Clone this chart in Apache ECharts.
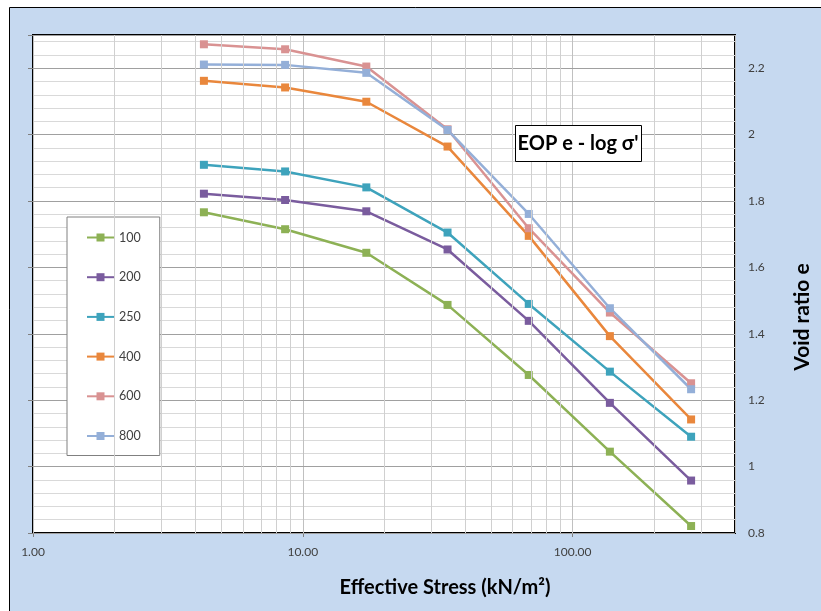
<!DOCTYPE html>
<html>
<head>
<meta charset="utf-8">
<script src="https://cdn.jsdelivr.net/npm/echarts@6/dist/echarts.min.js"></script>
<style>html,body{margin:0;padding:0;background:#fff}#c{width:821px;height:611px}</style>
</head>
<body>
<div id="c"></div>
<script>
// Effective stress (kN/m2)
var stress = [4.3, 8.6, 17.2, 34.4, 68.8, 137.5, 275];
// Void ratio series by load-increment label
var seriesNames = ['100', '200', '250', '400', '600', '800'];
var e100 = [1.766, 1.715, 1.644, 1.487, 1.276, 1.045, 0.821];
var e200 = [1.822, 1.803, 1.769, 1.654, 1.439, 1.192, 0.958];
var e250 = [1.909, 1.889, 1.841, 1.705, 1.490, 1.286, 1.090];
var e400 = [2.162, 2.142, 2.099, 1.964, 1.695, 1.393, 1.142];
var e600 = [2.272, 2.257, 2.205, 2.016, 1.718, 1.464, 1.251];
var e800 = [2.211, 2.210, 2.186, 2.014, 1.761, 1.477, 1.233];
var colors = ['#8db155', '#7a5c9e', '#3ea3bc', '#e9873c', '#d99292', '#94afd8'];
// axis ranges / ticks
var xMin = 1, xMax = 400;
var yMin = 0.8, yMax = 2.3, yMajor = 0.2, yMinor = 0.04;
var xMinorGrid = [2,3,4,5,6,7,8,9,20,30,40,50,60,70,80,90,200,300];

var allE = [e100, e200, e250, e400, e600, e800];
var FONT = 'Lato';
var series = allE.map(function (arr, i) {
  return {
    name: seriesNames[i], type: 'line', z: 3,
    data: stress.map(function (s, j) { return [s, arr[j]]; }),
    symbol: 'rect', symbolSize: 8, showSymbol: true,
    lineStyle: { color: colors[i], width: 2.5 },
    itemStyle: { color: colors[i] }
  };
});
series.unshift({
  name: 'grid', type: 'line', data: [], z: 1, silent: true,
  markLine: {
    silent: true, symbol: 'none', animation: false,
    label: { show: false },
    lineStyle: { color: '#d0d0d0', width: 1, type: 'solid' },
    data: xMinorGrid.map(function (v) { return { xAxis: v }; })
  }
});

var chart = echarts.init(document.getElementById('c'));
chart.setOption({
  animation: false,
  backgroundColor: '#ffffff',
  graphic: [
    { type: 'rect', z: -10, shape: { x: 9.5, y: 7.5, width: 830, height: 620 },
      style: { fill: '#c6d9f0', stroke: '#000', lineWidth: 1 } },
    { type: 'rect', z: 20, shape: { x: 515.5, y: 125.5, width: 126, height: 36 },
      style: { fill: '#fff', stroke: '#000', lineWidth: 1 } },
    { type: 'text', z: 21, x: 578, y: 143.5,
      style: { text: "EOP e - log σ'", fontFamily: FONT, fontWeight: 'bold', fontSize: 20,
        fill: '#000', align: 'center', verticalAlign: 'middle' } },
    { type: 'text', x: 445, y: 588, z: 20,
      style: { text: 'Effective Stress (kN/m²)', fontFamily: FONT, fontWeight: 'bold', fontSize: 20,
        fill: '#000', align: 'center', verticalAlign: 'middle' } },
    { type: 'text', x: 802, y: 317, rotation: Math.PI / 2, z: 20,
      style: { text: 'Void ratio e', fontFamily: FONT, fontWeight: 'bold', fontSize: 21,
        fill: '#000', align: 'center', verticalAlign: 'middle' } }
  ],
  grid: { left: 33, top: 35, right: 86, bottom: 78, show: true,
    backgroundColor: '#fff', borderColor: '#000', borderWidth: 2, z: 0 },
  legend: {
    orient: 'vertical', left: 67, top: 217,
    data: seriesNames,
    padding: [14, 19, 13, 19],
    itemWidth: 27, itemHeight: 10, itemGap: 26.7,
    backgroundColor: '#fff', borderColor: '#808080', borderWidth: 1, borderRadius: 0,
    textStyle: { fontFamily: FONT, fontSize: 12.5, color: '#404040' }
  },
  xAxis: {
    type: 'log', logBase: 10, min: xMin, max: xMax,
    axisLine: { show: false },
    axisTick: { show: true, inside: false, length: 4, lineStyle: { color: '#808080' } },
    axisLabel: { margin: 13, fontFamily: FONT, fontSize: 12, color: '#404040', showMaxLabel: false,
      formatter: function (v) {
        var l = Math.log10(v);
        return Math.abs(l - Math.round(l)) < 1e-6 ? v.toFixed(2) : '';
      } },
    splitLine: { show: true, lineStyle: { color: '#c0c0c0', width: 1 } }
  },
  yAxis: [
    { type: 'value', position: 'left', min: yMin, max: yMax, interval: yMajor, z: 1,
      axisLine: { show: false },
      axisTick: { show: true, inside: false, length: 5, lineStyle: { color: '#808080' } },
      axisLabel: { show: false },
      splitLine: { show: true, lineStyle: { color: '#a0a0a0', width: 1 } } },
    { type: 'value', position: 'right', min: yMin, max: yMax, interval: yMajor,
      axisLine: { show: false }, axisTick: { show: false },
      axisLabel: { show: true, margin: 13, fontFamily: FONT, fontSize: 12, color: '#404040', showMaxLabel: false },
      splitLine: { show: false } },
    { type: 'value', position: 'left', min: yMin, max: yMax, interval: yMinor, z: 0,
      axisLine: { show: false }, axisTick: { show: false }, axisLabel: { show: false },
      splitLine: { show: true, lineStyle: { color: '#d9d9d9', width: 1 } } }
  ],
  series: series
});
</script>
</body>
</html>
